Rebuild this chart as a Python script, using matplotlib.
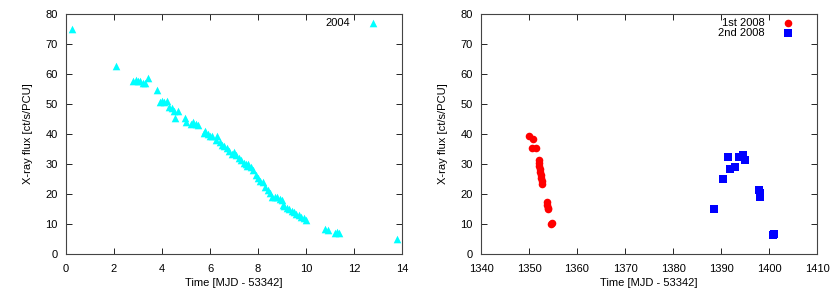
import matplotlib
matplotlib.use('Agg')
import matplotlib.pyplot as plt

# 2004 outburst
t_2004 = [0.25, 2.1, 2.8, 2.9, 3.0, 3.1, 3.2, 3.3, 3.4, 3.8,
          3.9, 4.0, 4.1, 4.2, 4.3, 4.4, 4.5, 4.55, 4.65,
          4.95, 5.0, 5.2, 5.3, 5.4, 5.5,
          5.75, 5.8, 5.9, 6.0, 6.1,
          6.25, 6.3, 6.4, 6.5, 6.6, 6.7, 6.8, 6.9, 7.0, 7.1, 7.2, 7.3, 7.4,
          7.5, 7.55, 7.6, 7.7, 7.8, 7.9, 8.0, 8.1, 8.2, 8.3, 8.4, 8.5, 8.6,
          8.7, 8.8, 8.9, 9.0, 9.05, 9.1, 9.2, 9.3, 9.4, 9.5, 9.6, 9.7, 9.8,
          9.9, 10.0,
          10.8, 10.9, 11.2, 11.3, 11.35, 13.8]
f_2004 = [75.0, 62.5, 57.5, 58.0, 57.5, 57.5, 57.0, 57.0, 58.5, 54.5,
          50.5, 51.0, 50.5, 51.0, 49.0, 48.5, 47.5, 45.5, 47.5,
          45.5, 44.0, 43.5, 44.0, 43.5, 43.0,
          40.5, 41.0, 40.0, 39.5, 39.5,
          38.0, 39.5, 37.5, 36.5, 36.0, 35.5, 34.5, 33.5, 34.0, 33.0, 32.0, 31.5, 30.5,
          30.0, 29.5, 30.0, 29.0, 28.0, 26.5, 25.5, 24.5, 24.0, 22.5, 21.5, 20.5, 19.0,
          19.0, 19.0, 18.5, 18.0, 16.5, 16.0, 15.5, 15.0, 14.5, 14.0, 13.5, 13.0, 12.5,
          12.0, 11.5,
          8.5, 8.0, 7.0, 7.5, 7.0, 5.0]

# first 2008 outburst
t_2008a = [1349.9, 1350.8, 1350.7, 1351.4, 1352.0, 1352.1, 1352.0, 1352.2, 1352.3,
           1352.5, 1352.6, 1352.7, 1352.8, 1353.7, 1353.8, 1353.9, 1354.0, 1354.6, 1354.7]
f_2008a = [39.5, 38.5, 35.5, 35.5, 31.5, 30.5, 29.5, 28.5, 27.5,
           26.5, 25.5, 24.5, 23.5, 17.5, 16.5, 15.5, 15.0, 10.0, 10.3]

# second 2008 outburst
t_2008b = [1388.6, 1390.4, 1391.4, 1391.9, 1392.8, 1393.8, 1394.6, 1395.0,
           1397.8, 1398.0, 1398.2, 1400.8, 1401.0]
f_2008b = [15.0, 25.0, 32.3, 28.3, 29.0, 32.5, 33.0, 31.2,
           21.3, 20.5, 18.9, 6.5, 6.8]

plt.rcParams['font.family'] = ['Liberation Sans', 'DejaVu Sans']
plt.rcParams['font.size'] = 8

fig = plt.figure(figsize=(8.3, 2.91), dpi=100)
ax1 = fig.add_axes([0.0795, 0.127, 0.405, 0.825])
ax2 = fig.add_axes([0.5795, 0.127, 0.405, 0.825])

ax1.scatter(t_2004, f_2004, marker='^', s=30, color='cyan', linewidths=0, label='2004')
ax2.scatter(t_2008a, f_2008a, marker='o', s=30, color='red', linewidths=0, label='1st 2008')
ax2.scatter(t_2008b, f_2008b, marker='s', s=26, color='blue', linewidths=0, label='2nd 2008')

ax1.set_xlim(0, 14)
ax1.set_xticks(range(0, 15, 2))
ax2.set_xlim(1340, 1410)
ax2.set_xticks(range(1340, 1411, 10))

for ax in (ax1, ax2):
    ax.set_ylim(0, 80)
    ax.set_yticks(range(0, 81, 10))
    ax.set_xlabel('Time [MJD - 53342]', labelpad=3)
    ax.set_ylabel('X-ray flux [ct/s/PCU]', labelpad=9)
    ax.tick_params(axis='x', direction='in', top=True, length=4, width=0.6,
                   labelsize=8, pad=7)
    ax.tick_params(axis='y', direction='in', right=True, length=4, width=0.6,
                   labelsize=8, pad=6)
    for sp in ax.spines.values():
        sp.set_linewidth(0.8)
        sp.set_color('#444444')
    ax.legend(loc='upper right', bbox_to_anchor=(0.93, 0.985), frameon=False,
              markerfirst=False, fontsize=8, handletextpad=1.6, labelspacing=0.05,
              borderaxespad=0, borderpad=0, handlelength=1.0)

plt.savefig('out.png', dpi=100)
